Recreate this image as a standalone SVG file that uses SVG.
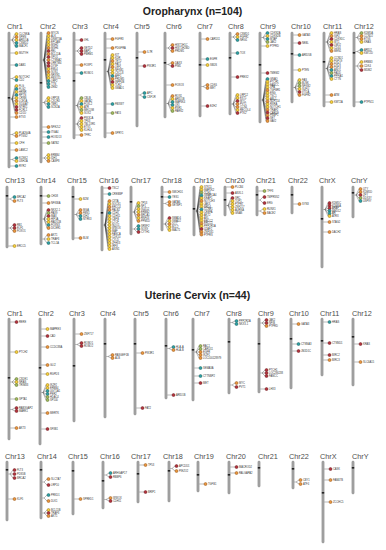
<svg xmlns="http://www.w3.org/2000/svg" width="386" height="550" viewBox="0 0 386 550">
<style>
.cl{font:7.3px "Liberation Sans",Arial,sans-serif;fill:#4d4d4d}
.tt{font:bold 10.5px "Liberation Sans",Arial,sans-serif;fill:#222;text-anchor:middle}
.gl{font:2.6px "Liberation Sans",Arial,sans-serif;fill:#333}
.bar{fill:#a3a3a3;stroke:#7a7a7a;stroke-width:.3}
.cen{fill:#222}
#connectors path{fill:none;stroke:#333;stroke-width:.35}
.y{fill:#f4cf3c;stroke:#8c6a00;stroke-width:.45}
.o{fill:#e8943a;stroke:#8a4a10;stroke-width:.45}
.r{fill:#b2303a;stroke:#5e1016;stroke-width:.45}
.t{fill:#2a9ea2;stroke:#105456;stroke-width:.45}
.g{fill:#9fb85a;stroke:#4f6224;stroke-width:.45}
</style>
<rect width="386" height="550" fill="#fff"/>
<text class="tt" x="192.5" y="15">Oropharynx  (n=104)</text>
<text class="tt" x="197.5" y="299">Uterine Cervix  (n=44)</text>

<g id="connectors">
<path transform="translate(9 0)" d="M1.2 40H3M3 40L6 34M3 40L6 37M3 40L6 40M3 40L6 43M3 40L6 46M1.2 53H6M1.2 65H6M1.2 78.5H3M3 78.5L6 77M3 78.5L6 80M1.2 99H3M3 99L6 86M3 99L6 89M3 99L6 92M3 99L6 95M3 99L6 98M3 99L6 101M3 99L6 104M3 99L6 107M3 99L6 110M3 99L6 113M1.2 117H6M1.2 134.5H3M3 134.5L6 133M3 134.5L6 136M1.2 143H6M1.2 150H6M1.2 159.5H3M3 159.5L6 158M3 159.5L6 161M1.2 166H6"/>
<path transform="translate(41 0)" d="M1.2 60H3M3 60L6 33M3 60L6 36M3 60L6 39M3 60L6 42M3 60L6 45M3 60L6 48M3 60L6 51M3 60L6 54M3 60L6 57M3 60L6 60M3 60L6 63M3 60L6 66M3 60L6 69M3 60L6 72M3 60L6 75M3 60L6 78M3 60L6 81M3 60L6 84M3 60L6 87M1.2 102.5H3M3 102.5L6 98M3 102.5L6 101M3 102.5L6 104M3 102.5L6 107M1.2 127H6M1.2 132H6M1.2 137H6M1.2 143H6M1.2 158H3M3 158L6 155M3 158L6 158M3 158L6 161"/>
<path transform="translate(74 0)" d="M1.2 40H6M1.2 51H3M3 51L6 48M3 51L6 51M3 51L6 54M1.2 65H6M1.2 73H6M1.2 105.5H3M3 105.5L6 98M3 105.5L6 101M3 105.5L6 104M3 105.5L6 107M3 105.5L6 110M3 105.5L6 113M1.2 124H3M3 124L6 118M3 124L6 121M3 124L6 124M3 124L6 127M3 124L6 130M1.2 135H6"/>
<path transform="translate(105 0)" d="M1.2 39H6M1.2 48H6M1.2 71.5H3M3 71.5L6 55M3 71.5L6 58M3 71.5L6 61M3 71.5L6 64M3 71.5L6 67M3 71.5L6 70M3 71.5L6 73M3 71.5L6 76M3 71.5L6 79M3 71.5L6 82M3 71.5L6 85M3 71.5L6 88M1.2 104H6M1.2 113H6M1.2 133H6"/>
<path transform="translate(137 0)" d="M1.2 52H6M1.2 66H6M1.2 95H3M3 95L6 93M3 95L6 97"/>
<path transform="translate(165 0)" d="M1.2 48H3M3 48L6 45M3 48L6 48M3 48L6 51M1.2 64.5H3M3 64.5L6 63M3 64.5L6 66M1.2 85H6M1.2 103.5H3M3 103.5L6 96M3 103.5L6 99M3 103.5L6 102M3 103.5L6 105M3 103.5L6 108M3 103.5L6 111"/>
<path transform="translate(200 0)" d="M1.2 39H6M1.2 59H6M1.2 65H6M1.2 86.5H3M3 86.5L6 85M3 86.5L6 88M1.2 106H6"/>
<path transform="translate(230 0)" d="M1.2 37H3M3 37L6 34M3 37L6 37M3 37L6 40M1.2 53H6M1.2 77H6M1.2 104H3M3 104L6 95M3 104L6 98M3 104L6 101M3 104L6 104M3 104L6 107M3 104L6 110M3 104L6 113"/>
<path transform="translate(260 0)" d="M1.2 37.5H3M3 37.5L6 33M3 37.5L6 36M3 37.5L6 39M3 37.5L6 42M1.2 46H6M1.2 73H6M1.2 100H3M3 100L6 79M3 100L6 81.8M3 100L6 84.6M3 100L6 87.4M3 100L6 90.2M3 100L6 93M3 100L6 95.8M3 100L6 98.6M3 100L6 101.4M3 100L6 104.2M3 100L6 107M3 100L6 109.8M3 100L6 112.6M3 100L6 115.4M3 100L6 118.2M3 100L6 121"/>
<path transform="translate(292 0)" d="M1.2 35H6M1.2 43H6M1.2 55H6M1.2 70H6M1.2 87.5H3M3 87.5L6 80M3 87.5L6 83M3 87.5L6 86M3 87.5L6 89M3 87.5L6 92M3 87.5L6 95"/>
<path transform="translate(324 0)" d="M1.2 42H3M3 42L6 33M3 42L6 36M3 42L6 39M3 42L6 42M3 42L6 45M3 42L6 48M3 42L6 51M1.2 68.5H3M3 68.5L6 58M3 68.5L6 61M3 68.5L6 64M3 68.5L6 67M3 68.5L6 70M3 68.5L6 73M3 68.5L6 76M3 68.5L6 79M1.2 95H6M1.2 102H6"/>
<path transform="translate(354 0)" d="M1.2 37.5H3M3 37.5L6 33M3 37.5L6 36M3 37.5L6 39M3 37.5L6 42M1.2 51.5H3M3 51.5L6 50M3 51.5L6 53M1.2 66H3M3 66L6 62M3 66L6 66M3 66L6 70M1.2 102H6"/>
<path transform="translate(7 0)" d="M1.2 199H3M3 199L6 197M3 199L6 201M1.2 228H3M3 228L6 225M3 228L6 228M3 228L6 231M1.2 246H6"/>
<path transform="translate(41 0)" d="M1.2 196H6M1.2 203H6M1.2 219H3M3 219L6 210M3 219L6 213M3 219L6 216M3 219L6 219M3 219L6 222M3 219L6 225M3 219L6 228M1.2 239H3M3 239L6 235M3 239L6 239M3 239L6 243"/>
<path transform="translate(73 0)" d="M1.2 199H6M1.2 214.5H3M3 214.5L6 210M3 214.5L6 213M3 214.5L6 216M3 214.5L6 219M1.2 238H6"/>
<path transform="translate(102 0)" d="M1.2 188H6M1.2 194H6M1.2 225H3M3 225L6 201M3 225L6 204M3 225L6 207M3 225L6 210M3 225L6 213M3 225L6 216M3 225L6 219M3 225L6 222M3 225L6 225M3 225L6 228M3 225L6 231M3 225L6 234M3 225L6 237M3 225L6 240M3 225L6 243M3 225L6 246M3 225L6 249"/>
<path transform="translate(131 0)" d="M1.2 212H3M3 212L6 203M3 212L6 206M3 212L6 209M3 212L6 212M3 212L6 215M3 212L6 218M3 212L6 221M1.2 229H3M3 229L6 226M3 229L6 229M3 229L6 232"/>
<path transform="translate(162 0)" d="M1.2 192H6M1.2 197H6M1.2 203.5H3M3 203.5L6 202M3 203.5L6 205M1.2 224H3M3 224L6 218M3 224L6 221M3 224L6 224M3 224L6 227M3 224L6 230"/>
<path transform="translate(194 0)" d="M1.2 211H3M3 211L6 187M3 211L6 189.8M3 211L6 192.6M3 211L6 195.4M3 211L6 198.2M3 211L6 201M3 211L6 203.8M3 211L6 206.6M3 211L6 209.4M3 211L6 212.2M3 211L6 215M3 211L6 217.8M3 211L6 220.6M3 211L6 223.4M3 211L6 226.2M3 211L6 229M3 211L6 231.8M3 211L6 234.6"/>
<path transform="translate(225 0)" d="M1.2 187H6M1.2 193H6M1.2 205.5H3M3 205.5L6 198M3 205.5L6 201M3 205.5L6 204M3 205.5L6 207M3 205.5L6 210M3 205.5L6 213"/>
<path transform="translate(257 0)" d="M1.2 191H6M1.2 200H3M3 200L6 197M3 200L6 203M1.2 211H3M3 211L6 209M3 211L6 213"/>
<path transform="translate(292 0)" d="M1.2 204H6"/>
<path transform="translate(322 0)" d="M1.2 209.5H3M3 209.5L6 203M3 209.5L6 205.6M3 209.5L6 208.2M3 209.5L6 210.8M3 209.5L6 213.4M3 209.5L6 216M1.2 222H6M1.2 232H6"/>
<path transform="translate(353 0)" d="M1.2 195H3M3 195L6 189M3 195L6 192M3 195L6 195M3 195L6 198M3 195L6 201"/>
<path transform="translate(9 0)" d="M1.2 322H6M1.2 352H6M1.2 382H3M3 382L6 379M3 382L6 382M3 382L6 385M1.2 399H6M1.2 409.5H3M3 409.5L6 408M3 409.5L6 411M1.2 428H6"/>
<path transform="translate(40 0)" d="M1.2 329H6M1.2 336H6M1.2 347H6M1.2 365H6M1.2 374H6M1.2 392.5H3M3 392.5L6 385M3 392.5L6 388M3 392.5L6 391M3 392.5L6 394M3 392.5L6 397M3 392.5L6 400M1.2 413H6M1.2 429H6"/>
<path transform="translate(74 0)" d="M1.2 334H6M1.2 344.5H3M3 344.5L6 343M3 344.5L6 346"/>
<path transform="translate(105 0)" d="M1.2 356.5H3M3 356.5L6 355M3 356.5L6 358"/>
<path transform="translate(135 0)" d="M1.2 353H6M1.2 408H6"/>
<path transform="translate(166 0)" d="M1.2 348.5H3M3 348.5L6 347M3 348.5L6 350M1.2 395H6"/>
<path transform="translate(193 0)" d="M1.2 352H3M3 352L6 346M3 352L6 349M3 352L6 352M3 352L6 355M3 352L6 358M1.2 368H6M1.2 376H6M1.2 383H6"/>
<path transform="translate(229 0)" d="M1.2 322.5H3M3 322.5L6 321M3 322.5L6 324M1.2 385H3M3 385L6 383M3 385L6 387"/>
<path transform="translate(259 0)" d="M1.2 323H3M3 323L6 320M3 323L6 323M3 323L6 326M1.2 373H3M3 373L6 370M3 373L6 373M3 373L6 376M1.2 389H6"/>
<path transform="translate(291 0)" d="M1.2 324H6M1.2 344H6M1.2 351H6"/>
<path transform="translate(322 0)" d="M1.2 322H6M1.2 343H6M1.2 355H6M1.2 360H6"/>
<path transform="translate(353 0)" d="M1.2 344H6M1.2 362H6"/>
<path transform="translate(7 0)" d="M1.2 474H3M3 474L6 470M3 474L6 474M3 474L6 478M1.2 499H6"/>
<path transform="translate(41 0)" d="M1.2 482H3M3 482L6 479M3 482L6 485M1.2 498H3M3 498L6 495M3 498L6 501M1.2 513H3M3 513L6 510M3 513L6 513M3 513L6 516"/>
<path transform="translate(73 0)" d="M1.2 499H6"/>
<path transform="translate(103 0)" d="M1.2 475H3M3 475L6 473M3 475L6 477M1.2 499.5H3M3 499.5L6 498M3 499.5L6 501"/>
<path transform="translate(138 0)" d="M1.2 465H6M1.2 492H6"/>
<path transform="translate(169 0)" d="M1.2 468.5H3M3 468.5L6 466M3 468.5L6 471"/>
<path transform="translate(198 0)" d="M1.2 484H6"/>
<path transform="translate(229 0)" d="M1.2 467H6M1.2 473H6"/>
<path transform="translate(293 0)" d="M1.2 482H3M3 482L6 480M3 482L6 484"/>
<path transform="translate(323 0)" d="M1.2 469H6M1.2 480H6M1.2 502H6"/>
</g>

<g id="oro-chr1" transform="translate(9 0)">
<text class="cl" x="-2" y="29">Chr1</text>
<rect class="bar" x="-1.2" y="32" width="2.4" height="136" rx="1"/><rect class="cen" x="-1.2" y="97" width="2.4" height="1.6"/>
<circle class="y" cx="7.5" cy="34" r="1.5"/><text class="gl" x="10" y="34.9">CLCNKA</text>
<circle class="o" cx="7.5" cy="37" r="1.5"/><text class="gl" x="10" y="37.9">SPEN</text>
<circle class="y" cx="7.5" cy="40" r="1.5"/><text class="gl" x="10" y="40.9">ARID1A</text>
<circle class="t" cx="7.5" cy="43" r="1.5"/><text class="gl" x="10" y="43.9">CSMD2</text>
<circle class="t" cx="7.5" cy="46" r="1.5"/><text class="gl" x="10" y="46.9">MACF1</text>
<circle class="y" cx="7.5" cy="53" r="1.5"/><text class="gl" x="10" y="53.9">MUTYH</text>
<circle class="t" cx="7.5" cy="65" r="1.5"/><text class="gl" x="10" y="65.9">DAB1</text>
<circle class="y" cx="7.5" cy="77" r="1.5"/><text class="gl" x="10" y="77.9">NOTCH2</text>
<circle class="t" cx="7.5" cy="80" r="1.5"/><text class="gl" x="10" y="80.9">CD2</text>
<circle class="y" cx="7.5" cy="86" r="1.5"/><text class="gl" x="10" y="86.9">FLG</text>
<circle class="t" cx="7.5" cy="89" r="1.5"/><text class="gl" x="10" y="89.9">FLG2</text>
<circle class="y" cx="7.5" cy="92" r="1.5"/><text class="gl" x="10" y="92.9">HRNR</text>
<circle class="t" cx="7.5" cy="95" r="1.5"/><text class="gl" x="10" y="95.9">RPTN</text>
<circle class="y" cx="7.5" cy="98" r="1.5"/><text class="gl" x="10" y="98.9">CRNN</text>
<circle class="o" cx="7.5" cy="101" r="1.5"/><text class="gl" x="10" y="101.9">LCE1A</text>
<circle class="y" cx="7.5" cy="104" r="1.5"/><text class="gl" x="10" y="104.9">S100A7</text>
<circle class="r" cx="7.5" cy="107" r="1.5"/><text class="gl" x="10" y="107.9">NTRK1</text>
<circle class="r" cx="7.5" cy="110" r="1.5"/><text class="gl" x="10" y="110.9">FCRL1</text>
<circle class="o" cx="7.5" cy="113" r="1.5"/><text class="gl" x="10" y="113.9">CD1D</text>
<circle class="o" cx="7.5" cy="117" r="1.5"/><text class="gl" x="10" y="117.9">ETV3</text>
<circle class="y" cx="7.5" cy="133" r="1.5"/><text class="gl" x="10" y="133.9">PLA2G4A</text>
<circle class="o" cx="7.5" cy="136" r="1.5"/><text class="gl" x="10" y="136.9">PTGS2</text>
<circle class="y" cx="7.5" cy="143" r="1.5"/><text class="gl" x="10" y="143.9">CFH</text>
<circle class="o" cx="7.5" cy="150" r="1.5"/><text class="gl" x="10" y="150.9">LAMC2</text>
<circle class="t" cx="7.5" cy="158" r="1.5"/><text class="gl" x="10" y="158.9">KCNK2</text>
<circle class="y" cx="7.5" cy="161" r="1.5"/><text class="gl" x="10" y="161.9">USH2A</text>
<circle class="t" cx="7.5" cy="166" r="1.5"/><text class="gl" x="10" y="166.9">RYR2</text>
</g>

<g id="oro-chr2" transform="translate(41 0)">
<text class="cl" x="-1" y="29">Chr2</text>
<rect class="bar" x="-1.2" y="32" width="2.4" height="131" rx="1"/><rect class="cen" x="-1.2" y="82" width="2.4" height="1.6"/>
<circle class="o" cx="7.5" cy="33" r="1.5"/><text class="gl" x="10" y="33.9">MYCN</text>
<circle class="y" cx="7.5" cy="36" r="1.5"/><text class="gl" x="10" y="36.9">ALK</text>
<circle class="y" cx="7.5" cy="39" r="1.5"/><text class="gl" x="10" y="39.9">DNMT3A</text>
<circle class="y" cx="7.5" cy="42" r="1.5"/><text class="gl" x="10" y="42.9">EPCAM</text>
<circle class="y" cx="7.5" cy="45" r="1.5"/><text class="gl" x="10" y="45.9">MSH2</text>
<circle class="o" cx="7.5" cy="48" r="1.5"/><text class="gl" x="10" y="48.9">MSH6</text>
<circle class="r" cx="7.5" cy="51" r="1.5"/><text class="gl" x="10" y="51.9">REL</text>
<circle class="o" cx="7.5" cy="54" r="1.5"/><text class="gl" x="10" y="54.9">BCL11A</text>
<circle class="r" cx="7.5" cy="57" r="1.5"/><text class="gl" x="10" y="57.9">XPO1</text>
<circle class="o" cx="7.5" cy="60" r="1.5"/><text class="gl" x="10" y="60.9">CTNNA2</text>
<circle class="r" cx="7.5" cy="63" r="1.5"/><text class="gl" x="10" y="63.9">LRRTM4</text>
<circle class="r" cx="7.5" cy="66" r="1.5"/><text class="gl" x="10" y="66.9">DYSF</text>
<circle class="y" cx="7.5" cy="69" r="1.5"/><text class="gl" x="10" y="69.9">EML4</text>
<circle class="o" cx="7.5" cy="72" r="1.5"/><text class="gl" x="10" y="72.9">SOS1</text>
<circle class="y" cx="7.5" cy="75" r="1.5"/><text class="gl" x="10" y="75.9">NRXN1</text>
<circle class="y" cx="7.5" cy="78" r="1.5"/><text class="gl" x="10" y="78.9">FBXO11</text>
<circle class="t" cx="7.5" cy="81" r="1.5"/><text class="gl" x="10" y="81.9">LRP2</text>
<circle class="t" cx="7.5" cy="84" r="1.5"/><text class="gl" x="10" y="84.9">TTN</text>
<circle class="t" cx="7.5" cy="87" r="1.5"/><text class="gl" x="10" y="87.9">ZEB2</text>
<circle class="y" cx="7.5" cy="98" r="1.5"/><text class="gl" x="10" y="98.9">LRP1B</text>
<circle class="y" cx="7.5" cy="101" r="1.5"/><text class="gl" x="10" y="101.9">CXCR4</text>
<circle class="t" cx="7.5" cy="104" r="1.5"/><text class="gl" x="10" y="104.9">TBR1</text>
<circle class="t" cx="7.5" cy="107" r="1.5"/><text class="gl" x="10" y="107.9">SCN2A</text>
<circle class="o" cx="7.5" cy="127" r="1.5"/><text class="gl" x="10" y="127.9">NFE2L2</text>
<circle class="t" cx="7.5" cy="132" r="1.5"/><text class="gl" x="10" y="132.9">ITGA4</text>
<circle class="t" cx="7.5" cy="137" r="1.5"/><text class="gl" x="10" y="137.9">HOXD13</text>
<circle class="g" cx="7.5" cy="143" r="1.5"/><text class="gl" x="10" y="143.9">SATB2</text>
<circle class="y" cx="7.5" cy="155" r="1.5"/><text class="gl" x="10" y="155.9">ERBB4</text>
<circle class="y" cx="7.5" cy="158" r="1.5"/><text class="gl" x="10" y="158.9">IDH1</text>
<circle class="o" cx="7.5" cy="161" r="1.5"/><text class="gl" x="10" y="161.9">CASP8</text>
</g>

<g id="oro-chr3" transform="translate(74 0)">
<text class="cl" x="-2" y="29">Chr3</text>
<rect class="bar" x="-1.2" y="32" width="2.4" height="107" rx="1"/><rect class="cen" x="-1.2" y="80" width="2.4" height="1.6"/>
<circle class="r" cx="7.5" cy="40" r="1.5"/><text class="gl" x="10" y="40.9">VHL</text>
<circle class="r" cx="7.5" cy="48" r="1.5"/><text class="gl" x="10" y="48.9">SETD2</text>
<circle class="r" cx="7.5" cy="51" r="1.5"/><text class="gl" x="10" y="51.9">BAP1</text>
<circle class="r" cx="7.5" cy="54" r="1.5"/><text class="gl" x="10" y="54.9">PBRM1</text>
<circle class="o" cx="7.5" cy="65" r="1.5"/><text class="gl" x="10" y="65.9">FOXP1</text>
<circle class="t" cx="7.5" cy="73" r="1.5"/><text class="gl" x="10" y="73.9">ROBO1</text>
<circle class="g" cx="7.5" cy="98" r="1.5"/><text class="gl" x="10" y="98.9">CBLB</text>
<circle class="y" cx="7.5" cy="101" r="1.5"/><text class="gl" x="10" y="101.9">GATA2</text>
<circle class="t" cx="7.5" cy="104" r="1.5"/><text class="gl" x="10" y="104.9">FOXL2</text>
<circle class="y" cx="7.5" cy="107" r="1.5"/><text class="gl" x="10" y="107.9">ATR</text>
<circle class="g" cx="7.5" cy="110" r="1.5"/><text class="gl" x="10" y="110.9">MECOM</text>
<circle class="y" cx="7.5" cy="113" r="1.5"/><text class="gl" x="10" y="113.9">SOX2</text>
<circle class="r" cx="7.5" cy="118" r="1.5"/><text class="gl" x="10" y="118.9">PIK3CA</text>
<circle class="y" cx="7.5" cy="121" r="1.5"/><text class="gl" x="10" y="121.9">TP63</text>
<circle class="y" cx="7.5" cy="124" r="1.5"/><text class="gl" x="10" y="124.9">TBL1XR1</text>
<circle class="y" cx="7.5" cy="127" r="1.5"/><text class="gl" x="10" y="127.9">ETV5</text>
<circle class="y" cx="7.5" cy="130" r="1.5"/><text class="gl" x="10" y="130.9">KLHL6</text>
<circle class="o" cx="7.5" cy="135" r="1.5"/><text class="gl" x="10" y="135.9">TFRC</text>
</g>

<g id="oro-chr4" transform="translate(105 0)">
<text class="cl" x="-2" y="29">Chr4</text>
<rect class="bar" x="-1.2" y="32" width="2.4" height="106" rx="1"/><rect class="cen" x="-1.2" y="59" width="2.4" height="1.6"/>
<circle class="o" cx="7.5" cy="39" r="1.5"/><text class="gl" x="10" y="39.9">FGFR3</text>
<circle class="o" cx="7.5" cy="48" r="1.5"/><text class="gl" x="10" y="48.9">PDGFRA</text>
<circle class="y" cx="7.5" cy="55" r="1.5"/><text class="gl" x="10" y="55.9">KIT</text>
<circle class="y" cx="7.5" cy="58" r="1.5"/><text class="gl" x="10" y="58.9">KDR</text>
<circle class="o" cx="7.5" cy="61" r="1.5"/><text class="gl" x="10" y="61.9">TET2</text>
<circle class="y" cx="7.5" cy="64" r="1.5"/><text class="gl" x="10" y="64.9">FAT1</text>
<circle class="o" cx="7.5" cy="67" r="1.5"/><text class="gl" x="10" y="67.9">LEF1</text>
<circle class="y" cx="7.5" cy="70" r="1.5"/><text class="gl" x="10" y="70.9">NFKB1</text>
<circle class="y" cx="7.5" cy="73" r="1.5"/><text class="gl" x="10" y="73.9">CXCL8</text>
<circle class="t" cx="7.5" cy="76" r="1.5"/><text class="gl" x="10" y="76.9">AFF1</text>
<circle class="o" cx="7.5" cy="79" r="1.5"/><text class="gl" x="10" y="79.9">PRDM5</text>
<circle class="r" cx="7.5" cy="82" r="1.5"/><text class="gl" x="10" y="82.9">INPP4B</text>
<circle class="y" cx="7.5" cy="85" r="1.5"/><text class="gl" x="10" y="85.9">TLR2</text>
<circle class="y" cx="7.5" cy="88" r="1.5"/><text class="gl" x="10" y="88.9">SMAD1</text>
<circle class="t" cx="7.5" cy="104" r="1.5"/><text class="gl" x="10" y="104.9">FBXW7</text>
<circle class="g" cx="7.5" cy="113" r="1.5"/><text class="gl" x="10" y="113.9">FAT4</text>
<circle class="o" cx="7.5" cy="133" r="1.5"/><text class="gl" x="10" y="133.9">SPRY1</text>
</g>

<g id="oro-chr5" transform="translate(137 0)">
<text class="cl" x="-3" y="29">Chr5</text>
<rect class="bar" x="-1.2" y="32" width="2.4" height="95" rx="1"/><rect class="cen" x="-1.2" y="57" width="2.4" height="1.6"/>
<circle class="o" cx="7.5" cy="52" r="1.5"/><text class="gl" x="10" y="52.9">IL7R</text>
<circle class="r" cx="7.5" cy="66" r="1.5"/><text class="gl" x="10" y="66.9">PIK3R1</text>
<circle class="t" cx="7.5" cy="93" r="1.5"/><text class="gl" x="10" y="93.9">APC</text>
<circle class="t" cx="7.5" cy="97" r="1.5"/><text class="gl" x="10" y="97.9">CSF1R</text>
</g>

<g id="oro-chr6" transform="translate(165 0)">
<text class="cl" x="1" y="29">Chr6</text>
<rect class="bar" x="-1.2" y="32" width="2.4" height="86" rx="1"/><rect class="cen" x="-1.2" y="62" width="2.4" height="1.6"/>
<circle class="o" cx="7.5" cy="45" r="1.5"/><text class="gl" x="10" y="45.9">HIST1H1C</text>
<circle class="r" cx="7.5" cy="48" r="1.5"/><text class="gl" x="10" y="48.9">HIST1H2BD</text>
<circle class="o" cx="7.5" cy="51" r="1.5"/><text class="gl" x="10" y="51.9">PRDM1</text>
<circle class="o" cx="7.5" cy="63" r="1.5"/><text class="gl" x="10" y="63.9">DAXX</text>
<circle class="r" cx="7.5" cy="66" r="1.5"/><text class="gl" x="10" y="66.9">PIM1</text>
<circle class="o" cx="7.5" cy="85" r="1.5"/><text class="gl" x="10" y="85.9">FOXO3</text>
<circle class="o" cx="7.5" cy="96" r="1.5"/><text class="gl" x="10" y="96.9">ROS1</text>
<circle class="y" cx="7.5" cy="99" r="1.5"/><text class="gl" x="10" y="99.9">ARID1B</text>
<circle class="t" cx="7.5" cy="102" r="1.5"/><text class="gl" x="10" y="102.9">MAP3K4</text>
<circle class="t" cx="7.5" cy="105" r="1.5"/><text class="gl" x="10" y="105.9">QKI</text>
<circle class="y" cx="7.5" cy="108" r="1.5"/><text class="gl" x="10" y="108.9">ESR1</text>
<circle class="g" cx="7.5" cy="111" r="1.5"/><text class="gl" x="10" y="111.9">PARK2</text>
</g>

<g id="oro-chr7" transform="translate(200 0)">
<text class="cl" x="-3" y="29">Chr7</text>
<rect class="bar" x="-1.2" y="32" width="2.4" height="85" rx="1"/><rect class="cen" x="-1.2" y="64" width="2.4" height="1.6"/>
<circle class="o" cx="7.5" cy="39" r="1.5"/><text class="gl" x="10" y="39.9">CARD11</text>
<circle class="t" cx="7.5" cy="59" r="1.5"/><text class="gl" x="10" y="59.9">EGFR</text>
<circle class="y" cx="7.5" cy="65" r="1.5"/><text class="gl" x="10" y="65.9">SBDS</text>
<circle class="o" cx="7.5" cy="85" r="1.5"/><text class="gl" x="10" y="85.9">CDK6</text>
<circle class="o" cx="7.5" cy="88" r="1.5"/><text class="gl" x="10" y="88.9">MET</text>
<circle class="r" cx="7.5" cy="106" r="1.5"/><text class="gl" x="10" y="106.9">EZH2</text>
</g>

<g id="oro-chr8" transform="translate(230 0)">
<text class="cl" x="-2" y="29">Chr8</text>
<rect class="bar" x="-1.2" y="32" width="2.4" height="83" rx="1"/><rect class="cen" x="-1.2" y="57" width="2.4" height="1.6"/>
<circle class="o" cx="7.5" cy="34" r="1.5"/><text class="gl" x="10" y="34.9">CSMD1</text>
<circle class="y" cx="7.5" cy="37" r="1.5"/><text class="gl" x="10" y="37.9">FGFR1</text>
<circle class="t" cx="7.5" cy="40" r="1.5"/><text class="gl" x="10" y="40.9">NRG1</text>
<circle class="t" cx="7.5" cy="53" r="1.5"/><text class="gl" x="10" y="53.9">TOX</text>
<circle class="r" cx="7.5" cy="77" r="1.5"/><text class="gl" x="10" y="77.9">PREX2</text>
<circle class="y" cx="7.5" cy="95" r="1.5"/><text class="gl" x="10" y="95.9">LRP12</text>
<circle class="y" cx="7.5" cy="98" r="1.5"/><text class="gl" x="10" y="98.9">EXT1</text>
<circle class="r" cx="7.5" cy="101" r="1.5"/><text class="gl" x="10" y="101.9">MYC</text>
<circle class="o" cx="7.5" cy="104" r="1.5"/><text class="gl" x="10" y="104.9">PVT1</text>
<circle class="o" cx="7.5" cy="107" r="1.5"/><text class="gl" x="10" y="107.9">CCN4</text>
<circle class="y" cx="7.5" cy="110" r="1.5"/><text class="gl" x="10" y="110.9">RECQL4</text>
<circle class="r" cx="7.5" cy="113" r="1.5"/><text class="gl" x="10" y="113.9">PTK2</text>
</g>

<g id="oro-chr9" transform="translate(260 0)">
<text class="cl" x="0" y="29">Chr9</text>
<rect class="bar" x="-1.2" y="32" width="2.4" height="91" rx="1"/><rect class="cen" x="-1.2" y="64" width="2.4" height="1.6"/>
<circle class="t" cx="7.5" cy="33" r="1.5"/><text class="gl" x="10" y="33.9">CDKN2A</text>
<circle class="y" cx="7.5" cy="36" r="1.5"/><text class="gl" x="10" y="36.9">CDKN2B</text>
<circle class="t" cx="7.5" cy="39" r="1.5"/><text class="gl" x="10" y="39.9">MTAP</text>
<circle class="g" cx="7.5" cy="42" r="1.5"/><text class="gl" x="10" y="42.9">JAK2</text>
<circle class="y" cx="7.5" cy="46" r="1.5"/><text class="gl" x="10" y="46.9">PTPRD</text>
<circle class="r" cx="7.5" cy="73" r="1.5"/><text class="gl" x="10" y="73.9">TMEM2</text>
<circle class="t" cx="7.5" cy="79" r="1.5"/><text class="gl" x="10" y="79.9">GNAQ</text>
<circle class="y" cx="7.5" cy="81.8" r="1.5"/><text class="gl" x="10" y="82.7">PTCH1</text>
<circle class="y" cx="7.5" cy="84.6" r="1.5"/><text class="gl" x="10" y="85.5">FANCC</text>
<circle class="y" cx="7.5" cy="87.4" r="1.5"/><text class="gl" x="10" y="88.3">XPA</text>
<circle class="o" cx="7.5" cy="90.2" r="1.5"/><text class="gl" x="10" y="91.1">TGFBR1</text>
<circle class="y" cx="7.5" cy="93" r="1.5"/><text class="gl" x="10" y="93.9">ENG</text>
<circle class="y" cx="7.5" cy="95.8" r="1.5"/><text class="gl" x="10" y="96.7">TSC1</text>
<circle class="y" cx="7.5" cy="98.6" r="1.5"/><text class="gl" x="10" y="99.5">ABL1</text>
<circle class="o" cx="7.5" cy="101.4" r="1.5"/><text class="gl" x="10" y="102.3">NUP214</text>
<circle class="y" cx="7.5" cy="104.2" r="1.5"/><text class="gl" x="10" y="105.1">RXRA</text>
<circle class="y" cx="7.5" cy="107" r="1.5"/><text class="gl" x="10" y="107.9">NOTCH1</text>
<circle class="o" cx="7.5" cy="109.8" r="1.5"/><text class="gl" x="10" y="110.7">TRAF2</text>
<circle class="r" cx="7.5" cy="112.6" r="1.5"/><text class="gl" x="10" y="113.5">CARD9</text>
<circle class="o" cx="7.5" cy="115.4" r="1.5"/><text class="gl" x="10" y="116.3">FNBP1</text>
<circle class="r" cx="7.5" cy="118.2" r="1.5"/><text class="gl" x="10" y="119.1">SET</text>
<circle class="o" cx="7.5" cy="121" r="1.5"/><text class="gl" x="10" y="121.9">VAV2</text>
</g>

<g id="oro-chr10" transform="translate(292 0)">
<text class="cl" x="-1" y="29">Chr10</text>
<rect class="bar" x="-1.2" y="32" width="2.4" height="71" rx="1"/><rect class="cen" x="-1.2" y="53" width="2.4" height="1.6"/>
<circle class="o" cx="7.5" cy="35" r="1.5"/><text class="gl" x="10" y="35.9">GATA3</text>
<circle class="r" cx="7.5" cy="43" r="1.5"/><text class="gl" x="10" y="43.9">NEBL</text>
<circle class="t" cx="7.5" cy="55" r="1.5"/><text class="gl" x="10" y="55.9">ARID5B</text>
<circle class="y" cx="7.5" cy="70" r="1.5"/><text class="gl" x="10" y="70.9">PTEN</text>
<circle class="y" cx="7.5" cy="80" r="1.5"/><text class="gl" x="10" y="80.9">FAS</text>
<circle class="g" cx="7.5" cy="83" r="1.5"/><text class="gl" x="10" y="83.9">BLNK</text>
<circle class="g" cx="7.5" cy="86" r="1.5"/><text class="gl" x="10" y="86.9">NFKB2</text>
<circle class="y" cx="7.5" cy="89" r="1.5"/><text class="gl" x="10" y="89.9">SUFU</text>
<circle class="r" cx="7.5" cy="92" r="1.5"/><text class="gl" x="10" y="92.9">VTI1A</text>
<circle class="o" cx="7.5" cy="95" r="1.5"/><text class="gl" x="10" y="95.9">FGFR2</text>
</g>

<g id="oro-chr11" transform="translate(324 0)">
<text class="cl" x="-1" y="29">Chr11</text>
<rect class="bar" x="-1.2" y="32" width="2.4" height="75" rx="1"/><rect class="cen" x="-1.2" y="61" width="2.4" height="1.6"/>
<circle class="y" cx="7.5" cy="33" r="1.5"/><text class="gl" x="10" y="33.9">HRAS</text>
<circle class="o" cx="7.5" cy="36" r="1.5"/><text class="gl" x="10" y="36.9">IGF2</text>
<circle class="r" cx="7.5" cy="39" r="1.5"/><text class="gl" x="10" y="39.9">CDKN1C</text>
<circle class="y" cx="7.5" cy="42" r="1.5"/><text class="gl" x="10" y="42.9">WT1</text>
<circle class="r" cx="7.5" cy="45" r="1.5"/><text class="gl" x="10" y="45.9">LMO2</text>
<circle class="y" cx="7.5" cy="48" r="1.5"/><text class="gl" x="10" y="48.9">CD44</text>
<circle class="o" cx="7.5" cy="51" r="1.5"/><text class="gl" x="10" y="51.9">MEN1</text>
<circle class="y" cx="7.5" cy="58" r="1.5"/><text class="gl" x="10" y="58.9">CCND1</text>
<circle class="y" cx="7.5" cy="61" r="1.5"/><text class="gl" x="10" y="61.9">FGF19</text>
<circle class="o" cx="7.5" cy="64" r="1.5"/><text class="gl" x="10" y="64.9">FGF4</text>
<circle class="o" cx="7.5" cy="67" r="1.5"/><text class="gl" x="10" y="67.9">FGF3</text>
<circle class="t" cx="7.5" cy="70" r="1.5"/><text class="gl" x="10" y="70.9">ANO1</text>
<circle class="g" cx="7.5" cy="73" r="1.5"/><text class="gl" x="10" y="73.9">FADD</text>
<circle class="t" cx="7.5" cy="76" r="1.5"/><text class="gl" x="10" y="76.9">PPFIA1</text>
<circle class="y" cx="7.5" cy="79" r="1.5"/><text class="gl" x="10" y="79.9">CTTN</text>
<circle class="o" cx="7.5" cy="95" r="1.5"/><text class="gl" x="10" y="95.9">ATM</text>
<circle class="y" cx="7.5" cy="102" r="1.5"/><text class="gl" x="10" y="102.9">KMT2A</text>
</g>

<g id="oro-chr12" transform="translate(354 0)">
<text class="cl" x="0" y="29">Chr12</text>
<rect class="bar" x="-1.2" y="32" width="2.4" height="75" rx="1"/><rect class="cen" x="-1.2" y="52" width="2.4" height="1.6"/>
<circle class="g" cx="7.5" cy="33" r="1.5"/><text class="gl" x="10" y="33.9">KDM5A</text>
<circle class="o" cx="7.5" cy="36" r="1.5"/><text class="gl" x="10" y="36.9">CCND2</text>
<circle class="o" cx="7.5" cy="39" r="1.5"/><text class="gl" x="10" y="39.9">ETV6</text>
<circle class="y" cx="7.5" cy="42" r="1.5"/><text class="gl" x="10" y="42.9">KRAS</text>
<circle class="t" cx="7.5" cy="50" r="1.5"/><text class="gl" x="10" y="50.9">ARID2</text>
<circle class="y" cx="7.5" cy="53" r="1.5"/><text class="gl" x="10" y="53.9">KMT2D</text>
<circle class="y" cx="7.5" cy="62" r="1.5"/><text class="gl" x="10" y="62.9">ERBB3</text>
<circle class="o" cx="7.5" cy="66" r="1.5"/><text class="gl" x="10" y="66.9">CDK4</text>
<circle class="r" cx="7.5" cy="70" r="1.5"/><text class="gl" x="10" y="70.9">MDM2</text>
<circle class="t" cx="7.5" cy="102" r="1.5"/><text class="gl" x="10" y="102.9">PTPN11</text>
</g>

<g id="oro-chr13" transform="translate(7 0)">
<text class="cl" x="-2" y="183">Chr13</text>
<rect class="bar" x="-1.2" y="186" width="2.4" height="62" rx="1"/><rect class="cen" x="-1.2" y="195" width="2.4" height="1.6"/>
<circle class="t" cx="7.5" cy="197" r="1.5"/><text class="gl" x="10" y="197.9">BRCA2</text>
<circle class="o" cx="7.5" cy="201" r="1.5"/><text class="gl" x="10" y="201.9">FLT3</text>
<circle class="r" cx="7.5" cy="225" r="1.5"/><text class="gl" x="10" y="225.9">RB1</text>
<circle class="r" cx="7.5" cy="228" r="1.5"/><text class="gl" x="10" y="228.9">ELF1</text>
<circle class="o" cx="7.5" cy="231" r="1.5"/><text class="gl" x="10" y="231.9">FOXO1</text>
<circle class="y" cx="7.5" cy="246" r="1.5"/><text class="gl" x="10" y="246.9">ERCC5</text>
</g>

<g id="oro-chr14" transform="translate(41 0)">
<text class="cl" x="-5" y="183">Chr14</text>
<rect class="bar" x="-1.2" y="186" width="2.4" height="59" rx="1"/><rect class="cen" x="-1.2" y="195" width="2.4" height="1.6"/>
<circle class="g" cx="7.5" cy="196" r="1.5"/><text class="gl" x="10" y="196.9">CHD8</text>
<circle class="o" cx="7.5" cy="203" r="1.5"/><text class="gl" x="10" y="203.9">NFKBIA</text>
<circle class="r" cx="7.5" cy="210" r="1.5"/><text class="gl" x="10" y="210.9">NKX2-1</text>
<circle class="g" cx="7.5" cy="213" r="1.5"/><text class="gl" x="10" y="213.9">PAX9</text>
<circle class="r" cx="7.5" cy="216" r="1.5"/><text class="gl" x="10" y="216.9">MAX</text>
<circle class="y" cx="7.5" cy="219" r="1.5"/><text class="gl" x="10" y="219.9">HIF1A</text>
<circle class="y" cx="7.5" cy="222" r="1.5"/><text class="gl" x="10" y="222.9">RAD51B</text>
<circle class="t" cx="7.5" cy="225" r="1.5"/><text class="gl" x="10" y="225.9">FOXN3</text>
<circle class="o" cx="7.5" cy="228" r="1.5"/><text class="gl" x="10" y="228.9">DICER1</text>
<circle class="o" cx="7.5" cy="235" r="1.5"/><text class="gl" x="10" y="235.9">AKT1</text>
<circle class="y" cx="7.5" cy="239" r="1.5"/><text class="gl" x="10" y="239.9">TRAF3</text>
<circle class="t" cx="7.5" cy="243" r="1.5"/><text class="gl" x="10" y="243.9">TCL1A</text>
</g>

<g id="oro-chr15" transform="translate(73 0)">
<text class="cl" x="-6" y="183">Chr15</text>
<rect class="bar" x="-1.2" y="186" width="2.4" height="54" rx="1"/><rect class="cen" x="-1.2" y="196" width="2.4" height="1.6"/>
<circle class="y" cx="7.5" cy="199" r="1.5"/><text class="gl" x="10" y="199.9">B2M</text>
<circle class="o" cx="7.5" cy="210" r="1.5"/><text class="gl" x="10" y="210.9">MGA</text>
<circle class="o" cx="7.5" cy="213" r="1.5"/><text class="gl" x="10" y="213.9">FBN1</text>
<circle class="t" cx="7.5" cy="216" r="1.5"/><text class="gl" x="10" y="216.9">IDH2</text>
<circle class="t" cx="7.5" cy="219" r="1.5"/><text class="gl" x="10" y="219.9">NTRK3</text>
<circle class="o" cx="7.5" cy="238" r="1.5"/><text class="gl" x="10" y="238.9">BLM</text>
</g>

<g id="oro-chr16" transform="translate(102 0)">
<text class="cl" x="-3" y="183">Chr16</text>
<rect class="bar" x="-1.2" y="186" width="2.4" height="65" rx="1"/><rect class="cen" x="-1.2" y="212" width="2.4" height="1.6"/>
<circle class="r" cx="7.5" cy="188" r="1.5"/><text class="gl" x="10" y="188.9">TSC2</text>
<circle class="t" cx="7.5" cy="194" r="1.5"/><text class="gl" x="10" y="194.9">CREBBP</text>
<circle class="o" cx="7.5" cy="201" r="1.5"/><text class="gl" x="10" y="201.9">CIITA</text>
<circle class="y" cx="7.5" cy="204" r="1.5"/><text class="gl" x="10" y="204.9">SOCS1</text>
<circle class="o" cx="7.5" cy="207" r="1.5"/><text class="gl" x="10" y="207.9">ERCC4</text>
<circle class="o" cx="7.5" cy="210" r="1.5"/><text class="gl" x="10" y="210.9">PALB2</text>
<circle class="t" cx="7.5" cy="213" r="1.5"/><text class="gl" x="10" y="213.9">CDH1</text>
<circle class="y" cx="7.5" cy="216" r="1.5"/><text class="gl" x="10" y="216.9">CDH11</text>
<circle class="y" cx="7.5" cy="219" r="1.5"/><text class="gl" x="10" y="219.9">CBFB</text>
<circle class="y" cx="7.5" cy="222" r="1.5"/><text class="gl" x="10" y="222.9">CTCF</text>
<circle class="y" cx="7.5" cy="225" r="1.5"/><text class="gl" x="10" y="225.9">NQO1</text>
<circle class="y" cx="7.5" cy="228" r="1.5"/><text class="gl" x="10" y="228.9">WWOX</text>
<circle class="y" cx="7.5" cy="231" r="1.5"/><text class="gl" x="10" y="231.9">MAF</text>
<circle class="y" cx="7.5" cy="234" r="1.5"/><text class="gl" x="10" y="234.9">FANCA</text>
<circle class="y" cx="7.5" cy="237" r="1.5"/><text class="gl" x="10" y="237.9">CDK10</text>
<circle class="y" cx="7.5" cy="240" r="1.5"/><text class="gl" x="10" y="240.9">CYLD</text>
<circle class="y" cx="7.5" cy="243" r="1.5"/><text class="gl" x="10" y="243.9">ZFHX3</text>
<circle class="y" cx="7.5" cy="246" r="1.5"/><text class="gl" x="10" y="246.9">IRF8</text>
<circle class="y" cx="7.5" cy="249" r="1.5"/><text class="gl" x="10" y="249.9">AXIN1</text>
</g>

<g id="oro-chr17" transform="translate(131 0)">
<text class="cl" x="0" y="183">Chr17</text>
<rect class="bar" x="-1.2" y="186" width="2.4" height="49" rx="1"/><rect class="cen" x="-1.2" y="201" width="2.4" height="1.6"/>
<circle class="y" cx="7.5" cy="203" r="1.5"/><text class="gl" x="10" y="203.9">TP53</text>
<circle class="g" cx="7.5" cy="206" r="1.5"/><text class="gl" x="10" y="206.9">NF1</text>
<circle class="y" cx="7.5" cy="209" r="1.5"/><text class="gl" x="10" y="209.9">SUZ12</text>
<circle class="y" cx="7.5" cy="212" r="1.5"/><text class="gl" x="10" y="212.9">ERBB2</text>
<circle class="o" cx="7.5" cy="215" r="1.5"/><text class="gl" x="10" y="215.9">BRCA1</text>
<circle class="y" cx="7.5" cy="218" r="1.5"/><text class="gl" x="10" y="218.9">RNF43</text>
<circle class="o" cx="7.5" cy="221" r="1.5"/><text class="gl" x="10" y="221.9">PPM1D</text>
<circle class="t" cx="7.5" cy="226" r="1.5"/><text class="gl" x="10" y="226.9">SRSF2</text>
<circle class="t" cx="7.5" cy="229" r="1.5"/><text class="gl" x="10" y="229.9">SOX9</text>
<circle class="r" cx="7.5" cy="232" r="1.5"/><text class="gl" x="10" y="232.9">CYTH1</text>
</g>

<g id="oro-chr18" transform="translate(162 0)">
<text class="cl" x="0" y="183">Chr18</text>
<rect class="bar" x="-1.2" y="186" width="2.4" height="45" rx="1"/><rect class="cen" x="-1.2" y="196" width="2.4" height="1.6"/>
<circle class="o" cx="7.5" cy="192" r="1.5"/><text class="gl" x="10" y="192.9">SMCHD1</text>
<circle class="t" cx="7.5" cy="197" r="1.5"/><text class="gl" x="10" y="197.9">YES1</text>
<circle class="o" cx="7.5" cy="202" r="1.5"/><text class="gl" x="10" y="202.9">GATA6</text>
<circle class="o" cx="7.5" cy="205" r="1.5"/><text class="gl" x="10" y="205.9">SETBP1</text>
<circle class="r" cx="7.5" cy="218" r="1.5"/><text class="gl" x="10" y="218.9">SMAD4</text>
<circle class="y" cx="7.5" cy="221" r="1.5"/><text class="gl" x="10" y="221.9">SMAD2</text>
<circle class="o" cx="7.5" cy="224" r="1.5"/><text class="gl" x="10" y="224.9">DCC</text>
<circle class="y" cx="7.5" cy="227" r="1.5"/><text class="gl" x="10" y="227.9">BCL2</text>
<circle class="y" cx="7.5" cy="230" r="1.5"/><text class="gl" x="10" y="230.9">MALT1</text>
</g>

<g id="oro-chr19" transform="translate(194 0)">
<text class="cl" x="0" y="183">Chr19</text>
<rect class="bar" x="-1.2" y="186" width="2.4" height="50" rx="1"/><rect class="cen" x="-1.2" y="208" width="2.4" height="1.6"/>
<circle class="y" cx="7.5" cy="187" r="1.5"/><text class="gl" x="10" y="187.9">STK11</text>
<circle class="y" cx="7.5" cy="189.8" r="1.5"/><text class="gl" x="10" y="190.7">MAP2K2</text>
<circle class="g" cx="7.5" cy="192.6" r="1.5"/><text class="gl" x="10" y="193.5">TCF3</text>
<circle class="t" cx="7.5" cy="195.4" r="1.5"/><text class="gl" x="10" y="196.3">SMARCA4</text>
<circle class="y" cx="7.5" cy="198.2" r="1.5"/><text class="gl" x="10" y="199.1">KEAP1</text>
<circle class="o" cx="7.5" cy="201" r="1.5"/><text class="gl" x="10" y="201.9">NOTCH3</text>
<circle class="y" cx="7.5" cy="203.8" r="1.5"/><text class="gl" x="10" y="204.7">JAK3</text>
<circle class="y" cx="7.5" cy="206.6" r="1.5"/><text class="gl" x="10" y="207.5">BRD4</text>
<circle class="t" cx="7.5" cy="209.4" r="1.5"/><text class="gl" x="10" y="210.3">CCNE1</text>
<circle class="y" cx="7.5" cy="212.2" r="1.5"/><text class="gl" x="10" y="213.1">CEBPA</text>
<circle class="y" cx="7.5" cy="215" r="1.5"/><text class="gl" x="10" y="215.9">AKT2</text>
<circle class="y" cx="7.5" cy="217.8" r="1.5"/><text class="gl" x="10" y="218.7">AXL</text>
<circle class="y" cx="7.5" cy="220.6" r="1.5"/><text class="gl" x="10" y="221.5">ERCC2</text>
<circle class="o" cx="7.5" cy="223.4" r="1.5"/><text class="gl" x="10" y="224.3">ERCC1</text>
<circle class="y" cx="7.5" cy="226.2" r="1.5"/><text class="gl" x="10" y="227.1">PPP2R1A</text>
<circle class="r" cx="7.5" cy="229" r="1.5"/><text class="gl" x="10" y="229.9">U2AF2</text>
<circle class="o" cx="7.5" cy="231.8" r="1.5"/><text class="gl" x="10" y="232.7">ZNF331</text>
<circle class="o" cx="7.5" cy="234.6" r="1.5"/><text class="gl" x="10" y="235.5">PTPRS</text>
</g>

<g id="oro-chr20" transform="translate(225 0)">
<text class="cl" x="0" y="183">Chr20</text>
<rect class="bar" x="-1.2" y="186" width="2.4" height="30" rx="1"/><rect class="cen" x="-1.2" y="199" width="2.4" height="1.6"/>
<circle class="o" cx="7.5" cy="187" r="1.5"/><text class="gl" x="10" y="187.9">PLCB4</text>
<circle class="r" cx="7.5" cy="193" r="1.5"/><text class="gl" x="10" y="193.9">ASXL1</text>
<circle class="r" cx="7.5" cy="198" r="1.5"/><text class="gl" x="10" y="198.9">SRC</text>
<circle class="y" cx="7.5" cy="201" r="1.5"/><text class="gl" x="10" y="201.9">TOP1</text>
<circle class="y" cx="7.5" cy="204" r="1.5"/><text class="gl" x="10" y="204.9">PTPRT</text>
<circle class="y" cx="7.5" cy="207" r="1.5"/><text class="gl" x="10" y="207.9">ZNF217</text>
<circle class="y" cx="7.5" cy="210" r="1.5"/><text class="gl" x="10" y="210.9">AURKA</text>
<circle class="y" cx="7.5" cy="213" r="1.5"/><text class="gl" x="10" y="213.9">GNAS</text>
</g>

<g id="oro-chr21" transform="translate(257 0)">
<text class="cl" x="-1" y="183">Chr21</text>
<rect class="bar" x="-1.2" y="186" width="2.4" height="30" rx="1"/><rect class="cen" x="-1.2" y="194" width="2.4" height="1.6"/>
<circle class="g" cx="7.5" cy="191" r="1.5"/><text class="gl" x="10" y="191.9">TFF3</text>
<circle class="r" cx="7.5" cy="197" r="1.5"/><text class="gl" x="10" y="197.9">TMPRSS2</text>
<circle class="r" cx="7.5" cy="203" r="1.5"/><text class="gl" x="10" y="203.9">ERG</text>
<circle class="y" cx="7.5" cy="209" r="1.5"/><text class="gl" x="10" y="209.9">RUNX1</text>
<circle class="o" cx="7.5" cy="213" r="1.5"/><text class="gl" x="10" y="213.9">BACE2</text>
</g>

<g id="oro-chr22" transform="translate(292 0)">
<text class="cl" x="-4" y="183">Chr22</text>
<rect class="bar" x="-1.2" y="186" width="2.4" height="28" rx="1"/><rect class="cen" x="-1.2" y="194" width="2.4" height="1.6"/>
<circle class="o" cx="7.5" cy="204" r="1.5"/><text class="gl" x="10" y="204.9">SYN3</text>
</g>

<g id="oro-chrX" transform="translate(322 0)">
<text class="cl" x="-3" y="183">ChrX</text>
<rect class="bar" x="-1.2" y="186" width="2.4" height="82" rx="1"/><rect class="cen" x="-1.2" y="218" width="2.4" height="1.6"/>
<circle class="r" cx="7.5" cy="203" r="1.5"/><text class="gl" x="10" y="203.9">KDM5C</text>
<circle class="r" cx="7.5" cy="205.6" r="1.5"/><text class="gl" x="10" y="206.5">KDM6A</text>
<circle class="r" cx="7.5" cy="208.2" r="1.5"/><text class="gl" x="10" y="209.1">ARAF</text>
<circle class="t" cx="7.5" cy="210.8" r="1.5"/><text class="gl" x="10" y="211.7">MED12</text>
<circle class="t" cx="7.5" cy="213.4" r="1.5"/><text class="gl" x="10" y="214.3">AR</text>
<circle class="y" cx="7.5" cy="216" r="1.5"/><text class="gl" x="10" y="216.9">ATRX</text>
<circle class="o" cx="7.5" cy="222" r="1.5"/><text class="gl" x="10" y="222.9">STAG2</text>
<circle class="o" cx="7.5" cy="232" r="1.5"/><text class="gl" x="10" y="232.9">DACH2</text>
</g>

<g id="oro-chrY" transform="translate(353 0)">
<text class="cl" x="-2" y="183">ChrY</text>
<rect class="bar" x="-1.2" y="186" width="2.4" height="32" rx="1"/><rect class="cen" x="-1.2" y="192" width="2.4" height="1.6"/>
<circle class="o" cx="7.5" cy="189" r="1.5"/><text class="gl" x="10" y="189.9">UTY</text>
<circle class="o" cx="7.5" cy="192" r="1.5"/><text class="gl" x="10" y="192.9">KDM5D</text>
<circle class="r" cx="7.5" cy="195" r="1.5"/><text class="gl" x="10" y="195.9">ZFY</text>
<circle class="g" cx="7.5" cy="198" r="1.5"/><text class="gl" x="10" y="198.9">DDX3Y</text>
<circle class="t" cx="7.5" cy="201" r="1.5"/><text class="gl" x="10" y="201.9">USP9Y</text>
</g>

<g id="cx-chr1" transform="translate(9 0)">
<text class="cl" x="-2" y="316">Chr1</text>
<rect class="bar" x="-1.2" y="318" width="2.4" height="122" rx="1"/><rect class="cen" x="-1.2" y="377" width="2.4" height="1.6"/>
<circle class="r" cx="7.5" cy="322" r="1.5"/><text class="gl" x="10" y="322.9">RERE</text>
<circle class="y" cx="7.5" cy="352" r="1.5"/><text class="gl" x="10" y="352.9">PTCH2</text>
<circle class="g" cx="7.5" cy="379" r="1.5"/><text class="gl" x="10" y="379.9">CSDE1</text>
<circle class="y" cx="7.5" cy="382" r="1.5"/><text class="gl" x="10" y="382.9">NRAS</text>
<circle class="g" cx="7.5" cy="385" r="1.5"/><text class="gl" x="10" y="385.9">TRIM33</text>
<circle class="g" cx="7.5" cy="399" r="1.5"/><text class="gl" x="10" y="399.9">SPTA1</text>
<circle class="r" cx="7.5" cy="408" r="1.5"/><text class="gl" x="10" y="408.9">RAB3GAP2</text>
<circle class="r" cx="7.5" cy="411" r="1.5"/><text class="gl" x="10" y="411.9">MARK1</text>
<circle class="o" cx="7.5" cy="428" r="1.5"/><text class="gl" x="10" y="428.9">AKT3</text>
</g>

<g id="cx-chr2" transform="translate(40 0)">
<text class="cl" x="-2" y="316">Chr2</text>
<rect class="bar" x="-1.2" y="318" width="2.4" height="127" rx="1"/><rect class="cen" x="-1.2" y="367" width="2.4" height="1.6"/>
<circle class="y" cx="7.5" cy="329" r="1.5"/><text class="gl" x="10" y="329.9">MAPRE3</text>
<circle class="r" cx="7.5" cy="336" r="1.5"/><text class="gl" x="10" y="336.9">CAD</text>
<circle class="o" cx="7.5" cy="347" r="1.5"/><text class="gl" x="10" y="347.9">CCDC88A</text>
<circle class="o" cx="7.5" cy="365" r="1.5"/><text class="gl" x="10" y="365.9">GLI2</text>
<circle class="y" cx="7.5" cy="374" r="1.5"/><text class="gl" x="10" y="374.9">RGPD3</text>
<circle class="y" cx="7.5" cy="385" r="1.5"/><text class="gl" x="10" y="385.9">IKZF2</text>
<circle class="y" cx="7.5" cy="388" r="1.5"/><text class="gl" x="10" y="388.9">ERBB4</text>
<circle class="t" cx="7.5" cy="391" r="1.5"/><text class="gl" x="10" y="391.9">UGT1A1</text>
<circle class="t" cx="7.5" cy="394" r="1.5"/><text class="gl" x="10" y="394.9">PER2</text>
<circle class="g" cx="7.5" cy="397" r="1.5"/><text class="gl" x="10" y="397.9">HDAC4</text>
<circle class="g" cx="7.5" cy="400" r="1.5"/><text class="gl" x="10" y="400.9">SP100</text>
<circle class="o" cx="7.5" cy="413" r="1.5"/><text class="gl" x="10" y="413.9">MERTK</text>
<circle class="r" cx="7.5" cy="429" r="1.5"/><text class="gl" x="10" y="429.9">SF3B1</text>
</g>

<g id="cx-chr3" transform="translate(74 0)">
<text class="cl" x="-5" y="316">Chr3</text>
<rect class="bar" x="-1.2" y="318" width="2.4" height="104" rx="1"/><rect class="cen" x="-1.2" y="365" width="2.4" height="1.6"/>
<circle class="o" cx="7.5" cy="334" r="1.5"/><text class="gl" x="10" y="334.9">ZNF717</text>
<circle class="r" cx="7.5" cy="343" r="1.5"/><text class="gl" x="10" y="343.9">ROBO1</text>
<circle class="r" cx="7.5" cy="346" r="1.5"/><text class="gl" x="10" y="346.9">ROBO2</text>
</g>

<g id="cx-chr4" transform="translate(105 0)">
<text class="cl" x="-5" y="316">Chr4</text>
<rect class="bar" x="-1.2" y="318" width="2.4" height="100" rx="1"/><rect class="cen" x="-1.2" y="343" width="2.4" height="1.6"/>
<circle class="o" cx="7.5" cy="355" r="1.5"/><text class="gl" x="10" y="355.9">RASGEF1B</text>
<circle class="o" cx="7.5" cy="358" r="1.5"/><text class="gl" x="10" y="358.9">ALB</text>
</g>

<g id="cx-chr5" transform="translate(135 0)">
<text class="cl" x="-2" y="316">Chr5</text>
<rect class="bar" x="-1.2" y="318" width="2.4" height="97" rx="1"/><rect class="cen" x="-1.2" y="343" width="2.4" height="1.6"/>
<circle class="o" cx="7.5" cy="353" r="1.5"/><text class="gl" x="10" y="353.9">PIK3R1</text>
<circle class="r" cx="7.5" cy="408" r="1.5"/><text class="gl" x="10" y="408.9">FAT2</text>
</g>

<g id="cx-chr6" transform="translate(166 0)">
<text class="cl" x="-3" y="316">Chr6</text>
<rect class="bar" x="-1.2" y="318" width="2.4" height="81" rx="1"/><rect class="cen" x="-1.2" y="345" width="2.4" height="1.6"/>
<circle class="t" cx="7.5" cy="347" r="1.5"/><text class="gl" x="10" y="347.9">HLA-A</text>
<circle class="o" cx="7.5" cy="350" r="1.5"/><text class="gl" x="10" y="350.9">HLA-B</text>
<circle class="r" cx="7.5" cy="395" r="1.5"/><text class="gl" x="10" y="395.9">ARID1B</text>
</g>

<g id="cx-chr7" transform="translate(193 0)">
<text class="cl" x="1" y="316">Chr7</text>
<rect class="bar" x="-1.2" y="318" width="2.4" height="83" rx="1"/><rect class="cen" x="-1.2" y="349" width="2.4" height="1.6"/>
<circle class="g" cx="7.5" cy="346" r="1.5"/><text class="gl" x="10" y="346.9">RAC1</text>
<circle class="g" cx="7.5" cy="349" r="1.5"/><text class="gl" x="10" y="349.9">CARD11</text>
<circle class="o" cx="7.5" cy="352" r="1.5"/><text class="gl" x="10" y="352.9">EGFR</text>
<circle class="o" cx="7.5" cy="355" r="1.5"/><text class="gl" x="10" y="355.9">IKZF1</text>
<circle class="o" cx="7.5" cy="358" r="1.5"/><text class="gl" x="10" y="358.9">LOC100128979</text>
<circle class="t" cx="7.5" cy="368" r="1.5"/><text class="gl" x="10" y="368.9">SEMA3A</text>
<circle class="t" cx="7.5" cy="376" r="1.5"/><text class="gl" x="10" y="376.9">CTTNBP2</text>
<circle class="r" cx="7.5" cy="383" r="1.5"/><text class="gl" x="10" y="383.9">MET</text>
</g>

<g id="cx-chr8" transform="translate(229 0)">
<text class="cl" x="-3" y="316">Chr8</text>
<rect class="bar" x="-1.2" y="318" width="2.4" height="76" rx="1"/><rect class="cen" x="-1.2" y="341" width="2.4" height="1.6"/>
<circle class="t" cx="7.5" cy="321" r="1.5"/><text class="gl" x="10" y="321.9">PPP2R2A</text>
<circle class="t" cx="7.5" cy="324" r="1.5"/><text class="gl" x="10" y="324.9">NKX3-1</text>
<circle class="o" cx="7.5" cy="383" r="1.5"/><text class="gl" x="10" y="383.9">MYC</text>
<circle class="r" cx="7.5" cy="387" r="1.5"/><text class="gl" x="10" y="387.9">PVT1</text>
</g>

<g id="cx-chr9" transform="translate(259 0)">
<text class="cl" x="-1" y="316">Chr9</text>
<rect class="bar" x="-1.2" y="318" width="2.4" height="75" rx="1"/><rect class="cen" x="-1.2" y="343" width="2.4" height="1.6"/>
<circle class="r" cx="7.5" cy="320" r="1.5"/><text class="gl" x="10" y="320.9">JAK2</text>
<circle class="r" cx="7.5" cy="323" r="1.5"/><text class="gl" x="10" y="323.9">NFIB</text>
<circle class="o" cx="7.5" cy="326" r="1.5"/><text class="gl" x="10" y="326.9">PTPRD</text>
<circle class="r" cx="7.5" cy="370" r="1.5"/><text class="gl" x="10" y="370.9">PTCH1</text>
<circle class="r" cx="7.5" cy="373" r="1.5"/><text class="gl" x="10" y="373.9">LOC286238</text>
<circle class="r" cx="7.5" cy="376" r="1.5"/><text class="gl" x="10" y="376.9">FANCC</text>
<circle class="r" cx="7.5" cy="389" r="1.5"/><text class="gl" x="10" y="389.9">LHX3</text>
</g>

<g id="cx-chr10" transform="translate(291 0)">
<text class="cl" x="-2" y="316">Chr10</text>
<rect class="bar" x="-1.2" y="318" width="2.4" height="71" rx="1"/><rect class="cen" x="-1.2" y="338" width="2.4" height="1.6"/>
<circle class="o" cx="7.5" cy="324" r="1.5"/><text class="gl" x="10" y="324.9">GATA3</text>
<circle class="t" cx="7.5" cy="344" r="1.5"/><text class="gl" x="10" y="344.9">CTNNA3</text>
<circle class="r" cx="7.5" cy="351" r="1.5"/><text class="gl" x="10" y="351.9">JMJD1C</text>
</g>

<g id="cx-chr11" transform="translate(322 0)">
<text class="cl" x="-2" y="316">Chr11</text>
<rect class="bar" x="-1.2" y="318" width="2.4" height="58" rx="1"/><rect class="cen" x="-1.2" y="340" width="2.4" height="1.6"/>
<circle class="t" cx="7.5" cy="322" r="1.5"/><text class="gl" x="10" y="322.9">HRAS</text>
<circle class="r" cx="7.5" cy="343" r="1.5"/><text class="gl" x="10" y="343.9">CTNND1</text>
<circle class="r" cx="7.5" cy="355" r="1.5"/><text class="gl" x="10" y="355.9">BIRC2</text>
<circle class="o" cx="7.5" cy="360" r="1.5"/><text class="gl" x="10" y="360.9">BIRC3</text>
</g>

<g id="cx-chr12" transform="translate(353 0)">
<text class="cl" x="-1" y="316">Chr12</text>
<rect class="bar" x="-1.2" y="318" width="2.4" height="68" rx="1"/><rect class="cen" x="-1.2" y="336" width="2.4" height="1.6"/>
<circle class="r" cx="7.5" cy="344" r="1.5"/><text class="gl" x="10" y="344.9">KRAS</text>
<circle class="o" cx="7.5" cy="362" r="1.5"/><text class="gl" x="10" y="362.9">SLC6A15</text>
</g>

<g id="cx-chr13" transform="translate(7 0)">
<text class="cl" x="-2" y="458.5">Chr13</text>
<rect class="bar" x="-1.2" y="461" width="2.4" height="60" rx="1"/><rect class="cen" x="-1.2" y="469" width="2.4" height="1.6"/>
<circle class="r" cx="7.5" cy="470" r="1.5"/><text class="gl" x="10" y="470.9">FLT3</text>
<circle class="r" cx="7.5" cy="474" r="1.5"/><text class="gl" x="10" y="474.9">PDS5B</text>
<circle class="r" cx="7.5" cy="478" r="1.5"/><text class="gl" x="10" y="478.9">BRCA2</text>
<circle class="o" cx="7.5" cy="499" r="1.5"/><text class="gl" x="10" y="499.9">KLF5</text>
</g>

<g id="cx-chr14" transform="translate(41 0)">
<text class="cl" x="-4" y="458.5">Chr14</text>
<rect class="bar" x="-1.2" y="461" width="2.4" height="58" rx="1"/><rect class="cen" x="-1.2" y="469" width="2.4" height="1.6"/>
<circle class="o" cx="7.5" cy="479" r="1.5"/><text class="gl" x="10" y="479.9">SLC7A7</text>
<circle class="r" cx="7.5" cy="485" r="1.5"/><text class="gl" x="10" y="485.9">LRP10</text>
<circle class="t" cx="7.5" cy="495" r="1.5"/><text class="gl" x="10" y="495.9">PRKD1</text>
<circle class="o" cx="7.5" cy="501" r="1.5"/><text class="gl" x="10" y="501.9">DLK1</text>
<circle class="y" cx="7.5" cy="510" r="1.5"/><text class="gl" x="10" y="510.9">BCL11B</text>
<circle class="r" cx="7.5" cy="513" r="1.5"/><text class="gl" x="10" y="513.9">TRAF3</text>
<circle class="o" cx="7.5" cy="516" r="1.5"/><text class="gl" x="10" y="516.9">AKT1</text>
</g>

<g id="cx-chr15" transform="translate(73 0)">
<text class="cl" x="-5" y="458.5">Chr15</text>
<rect class="bar" x="-1.2" y="461" width="2.4" height="54" rx="1"/><rect class="cen" x="-1.2" y="470" width="2.4" height="1.6"/>
<circle class="o" cx="7.5" cy="499" r="1.5"/><text class="gl" x="10" y="499.9">SPRED1</text>
</g>

<g id="cx-chr16" transform="translate(103 0)">
<text class="cl" x="-3" y="458.5">Chr16</text>
<rect class="bar" x="-1.2" y="461" width="2.4" height="48" rx="1"/><rect class="cen" x="-1.2" y="480" width="2.4" height="1.6"/>
<circle class="t" cx="7.5" cy="473" r="1.5"/><text class="gl" x="10" y="473.9">ARHGAP17</text>
<circle class="r" cx="7.5" cy="477" r="1.5"/><text class="gl" x="10" y="477.9">RBBP6</text>
<circle class="o" cx="7.5" cy="498" r="1.5"/><text class="gl" x="10" y="498.9">WWOX</text>
<circle class="r" cx="7.5" cy="501" r="1.5"/><text class="gl" x="10" y="501.9">CDH11</text>
</g>

<g id="cx-chr17" transform="translate(138 0)">
<text class="cl" x="-7" y="458.5">Chr17</text>
<rect class="bar" x="-1.2" y="461" width="2.4" height="42" rx="1"/><rect class="cen" x="-1.2" y="473" width="2.4" height="1.6"/>
<circle class="o" cx="7.5" cy="465" r="1.5"/><text class="gl" x="10" y="465.9">TP53</text>
<circle class="r" cx="7.5" cy="492" r="1.5"/><text class="gl" x="10" y="492.9">BRIP1</text>
</g>

<g id="cx-chr18" transform="translate(169 0)">
<text class="cl" x="-6" y="458.5">Chr18</text>
<rect class="bar" x="-1.2" y="461" width="2.4" height="41" rx="1"/><rect class="cen" x="-1.2" y="470" width="2.4" height="1.6"/>
<circle class="r" cx="7.5" cy="466" r="1.5"/><text class="gl" x="10" y="466.9">APCDD1</text>
<circle class="o" cx="7.5" cy="471" r="1.5"/><text class="gl" x="10" y="471.9">PIEZO2</text>
</g>

<g id="cx-chr19" transform="translate(198 0)">
<text class="cl" x="-4" y="458.5">Chr19</text>
<rect class="bar" x="-1.2" y="461" width="2.4" height="31" rx="1"/><rect class="cen" x="-1.2" y="474" width="2.4" height="1.6"/>
<circle class="o" cx="7.5" cy="484" r="1.5"/><text class="gl" x="10" y="484.9">TGFB1</text>
</g>

<g id="cx-chr20" transform="translate(229 0)">
<text class="cl" x="-3" y="458.5">Chr20</text>
<rect class="bar" x="-1.2" y="461" width="2.4" height="33" rx="1"/><rect class="cen" x="-1.2" y="474" width="2.4" height="1.6"/>
<circle class="r" cx="7.5" cy="467" r="1.5"/><text class="gl" x="10" y="467.9">MACROD2</text>
<circle class="o" cx="7.5" cy="473" r="1.5"/><text class="gl" x="10" y="473.9">RALGAPA2</text>
</g>

<g id="cx-chr21" transform="translate(259 0)">
<text class="cl" x="-1" y="458.5">Chr21</text>
<rect class="bar" x="-1.2" y="461" width="2.4" height="26" rx="1"/><rect class="cen" x="-1.2" y="467" width="2.4" height="1.6"/>
</g>

<g id="cx-chr22" transform="translate(293 0)">
<text class="cl" x="-4" y="458.5">Chr22</text>
<rect class="bar" x="-1.2" y="461" width="2.4" height="28" rx="1"/><rect class="cen" x="-1.2" y="468" width="2.4" height="1.6"/>
<circle class="o" cx="7.5" cy="480" r="1.5"/><text class="gl" x="10" y="480.9">CBY1</text>
<circle class="o" cx="7.5" cy="484" r="1.5"/><text class="gl" x="10" y="484.9">ATF4</text>
</g>

<g id="cx-chrX" transform="translate(323 0)">
<text class="cl" x="-3" y="458.5">ChrX</text>
<rect class="bar" x="-1.2" y="461" width="2.4" height="82" rx="1"/><rect class="cen" x="-1.2" y="492" width="2.4" height="1.6"/>
<circle class="r" cx="7.5" cy="469" r="1.5"/><text class="gl" x="10" y="469.9">CASK</text>
<circle class="o" cx="7.5" cy="480" r="1.5"/><text class="gl" x="10" y="480.9">FAM47B</text>
<circle class="o" cx="7.5" cy="502" r="1.5"/><text class="gl" x="10" y="502.9">ZCCHC5</text>
</g>

<g id="cx-chrY" transform="translate(353 0)">
<text class="cl" x="-1" y="458.5">ChrY</text>
<rect class="bar" x="-1.2" y="461" width="2.4" height="33" rx="1"/><rect class="cen" x="-1.2" y="467" width="2.4" height="1.6"/>
</g>
</svg>
